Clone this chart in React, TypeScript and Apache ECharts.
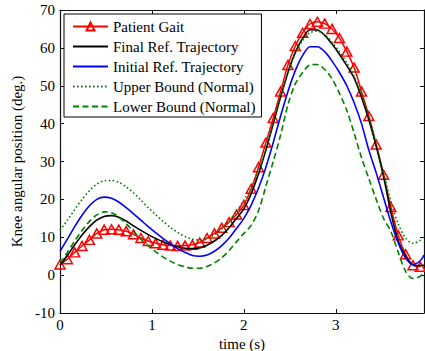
import React, { useEffect, useRef } from "react";
import * as echarts from "echarts";

const time = [0, 0.08, 0.16, 0.24, 0.32, 0.4, 0.48, 0.56, 0.64, 0.72, 0.8, 0.88, 0.96, 1.04, 1.12, 1.2, 1.28, 1.36, 1.44, 1.52, 1.6, 1.68, 1.76, 1.84, 1.92, 2.0, 2.08, 2.16, 2.24, 2.32, 2.4, 2.48, 2.56, 2.64, 2.72, 2.8, 2.88, 2.96, 3.04, 3.12, 3.2, 3.28, 3.36, 3.44, 3.52, 3.6, 3.68, 3.76, 3.84, 3.92, 3.96];

const patientGait = [2.8, 4.2, 6.0, 7.7, 9.3, 11.0, 12.0, 12.1, 12.0, 11.6, 10.8, 9.8, 9.0, 8.4, 8.0, 7.8, 7.7, 7.8, 8.0, 8.6, 9.8, 11.0, 12.5, 14.0, 16.0, 18.5, 22.8, 28.5, 35.0, 41.5, 48.5, 55.5, 60.5, 64.0, 66.3, 66.9, 66.4, 65.0, 62.6, 59.0, 54.8, 48.5, 42.0, 34.5, 26.5, 18.0, 10.5, 5.5, 2.6, 2.2];

const finalRef = [2.6, 5.2, 8.0, 10.6, 12.8, 14.5, 15.5, 15.7, 15.3, 14.3, 13.0, 11.8, 10.7, 9.7, 8.8, 8.1, 7.5, 7.1, 7.0, 7.2, 7.9, 9.0, 10.5, 12.5, 15.0, 17.5, 21.5, 26.8, 33.0, 40.0, 47.0, 53.5, 58.8, 62.5, 64.8, 64.7, 63.3, 61.0, 58.3, 55.3, 52.0, 47.0, 41.0, 34.0, 26.0, 16.5, 9.0, 5.0, 2.7, 2.5, 2.6];

const initialRef = [6.3, 9.5, 12.8, 15.8, 18.3, 20.0, 20.6, 20.3, 19.3, 17.8, 16.2, 14.5, 12.8, 11.2, 9.7, 8.3, 7.0, 6.0, 5.2, 5.0, 5.3, 6.3, 7.8, 9.8, 12.3, 15.0, 18.5, 23.0, 28.5, 35.0, 42.0, 48.5, 54.0, 58.0, 60.3, 60.3, 59.0, 56.5, 53.5, 50.0, 45.5, 40.0, 33.0, 27.0, 20.5, 14.0, 8.5, 4.5, 2.8, 3.8, 5.3];

const upperBound = [11.8, 14.5, 17.3, 20.0, 22.3, 24.0, 24.9, 25.0, 24.5, 23.3, 21.7, 19.8, 17.8, 16.0, 14.2, 12.6, 11.3, 10.2, 9.5, 9.3, 9.7, 10.7, 12.2, 14.3, 16.8, 19.8, 23.0, 27.5, 33.5, 40.0, 47.0, 53.5, 58.5, 62.0, 64.0, 64.4, 63.5, 61.5, 59.0, 56.0, 52.5, 47.8, 41.8, 34.8, 27.0, 19.5, 13.5, 9.8, 8.4, 9.2, 10.3];

const lowerBound = [3.2, 6.0, 9.0, 11.8, 14.2, 15.9, 16.7, 16.5, 15.3, 13.6, 11.5, 9.5, 7.7, 6.2, 4.8, 3.7, 2.8, 2.2, 1.8, 1.8, 2.3, 3.2, 4.6, 6.5, 8.8, 11.0, 13.2, 17.0, 23.5, 30.0, 37.0, 45.0, 50.5, 53.5, 55.5, 55.6, 54.3, 51.8, 48.0, 43.5, 37.5, 31.0, 25.5, 20.0, 15.0, 11.5, 6.0, 1.0, -0.9, -0.3, 0.9];

const seriesNames = [
  "Patient Gait",
  "Final Ref. Trajectory",
  "Initial Ref. Trajectory",
  "Upper Bound (Normal)",
  "Lower Bound (Normal)",
];

const xTitle = "time (s)";
const yTitle = "Knee angular position (deg.)";

const FONT = "'Liberation Serif', 'Times New Roman', serif";

const pairs = (vals: number[]) => vals.map((v, i) => [time[i], v]);

export default function App() {
  const ref = useRef<HTMLDivElement>(null);
  useEffect(() => {
    if (!ref.current) return;
    const chart = echarts.init(ref.current, null, { renderer: "svg" });
    const green = "#008000";
    const axisCommon = {
      axisLine: { show: true, onZero: false, lineStyle: { color: "#111", width: 1.2 } },
      axisTick: { show: true, inside: true, length: 4, lineStyle: { color: "#111", width: 1 } },
      splitLine: { show: false },
    };
    const legendData = seriesNames.map((name, i) =>
      i === 0 ? { name } : { name, itemStyle: { opacity: 0, borderWidth: 0 } }
    );
    chart.setOption({
      animation: false,
      backgroundColor: "#fff",
      grid: { left: 60, right: 1, top: 10, bottom: 38, outerBoundsMode: "none" },
      legend: {
        data: legendData,
        orient: "vertical",
        left: 64,
        top: 14,
        padding: [5, 6, 3, 8],
        itemWidth: 35,
        itemHeight: 10,
        itemGap: 5,
        backgroundColor: "#fff",
        borderColor: "#000",
        borderWidth: 1,
        selectedMode: false,
        textStyle: { fontFamily: FONT, fontSize: 15, color: "#000", lineHeight: 15 },
      },
      xAxis: [
        {
          type: "value",
          min: 0,
          max: 3.96,
          interval: 1,
          position: "bottom",
          ...axisCommon,
          axisLabel: { fontFamily: FONT, fontSize: 15, color: "#000", margin: 4, showMaxLabel: false },
          name: xTitle,
          nameLocation: "middle",
          nameGap: 18,
          nameTextStyle: { fontFamily: FONT, fontSize: 15, color: "#000" },
        },
        {
          type: "value",
          min: 0,
          max: 3.96,
          interval: 1,
          position: "top",
          ...axisCommon,
          axisLabel: { show: false },
        },
      ],
      yAxis: [
        {
          type: "value",
          min: -10,
          max: 70,
          interval: 10,
          position: "left",
          ...axisCommon,
          axisLabel: { fontFamily: FONT, fontSize: 15, color: "#000", margin: 5 },
          name: yTitle,
          nameLocation: "middle",
          nameGap: 31,
          nameTextStyle: { fontFamily: FONT, fontSize: 15, color: "#000" },
        },
        {
          type: "value",
          min: -10,
          max: 70,
          interval: 10,
          position: "right",
          ...axisCommon,
          axisLabel: { show: false },
        },
      ],
      series: [
        {
          name: seriesNames[0],
          type: "line",
          data: pairs(patientGait),
          smooth: 0.3,
          symbol: "triangle",
          symbolSize: [10, 9],
          color: "#ff0000",
          itemStyle: { color: "rgba(255,255,255,0)", borderColor: "#ff0000", borderWidth: 1.5 },
          lineStyle: { color: "#ff0000", width: 1.5 },
          z: 2,
        },
        {
          name: seriesNames[1],
          type: "line",
          data: pairs(finalRef),
          smooth: 0.3,
          showSymbol: false,
          symbol: "none",
          color: "#000000",
          lineStyle: { color: "#000000", width: 1.6 },
          z: 3,
        },
        {
          name: seriesNames[2],
          type: "line",
          data: pairs(initialRef),
          smooth: 0.3,
          showSymbol: false,
          symbol: "none",
          color: "#0000ff",
          lineStyle: { color: "#0000ff", width: 1.6 },
          z: 3,
        },
        {
          name: seriesNames[3],
          type: "line",
          data: pairs(upperBound),
          smooth: 0.3,
          showSymbol: false,
          symbol: "none",
          color: green,
          lineStyle: { color: green, width: 1.6, type: [1.6, 2.4] },
          z: 3,
        },
        {
          name: seriesNames[4],
          type: "line",
          data: pairs(lowerBound),
          smooth: 0.3,
          showSymbol: false,
          symbol: "none",
          color: green,
          lineStyle: { color: green, width: 1.6, type: [6, 3.5] },
          z: 3,
        },
      ],
    });
    return () => chart.dispose();
  }, []);
  return (
    <div
      ref={ref}
      style={{ position: "fixed", left: 0, top: 0, width: 425, height: 351, background: "#fff" }}
    />
  );
}
